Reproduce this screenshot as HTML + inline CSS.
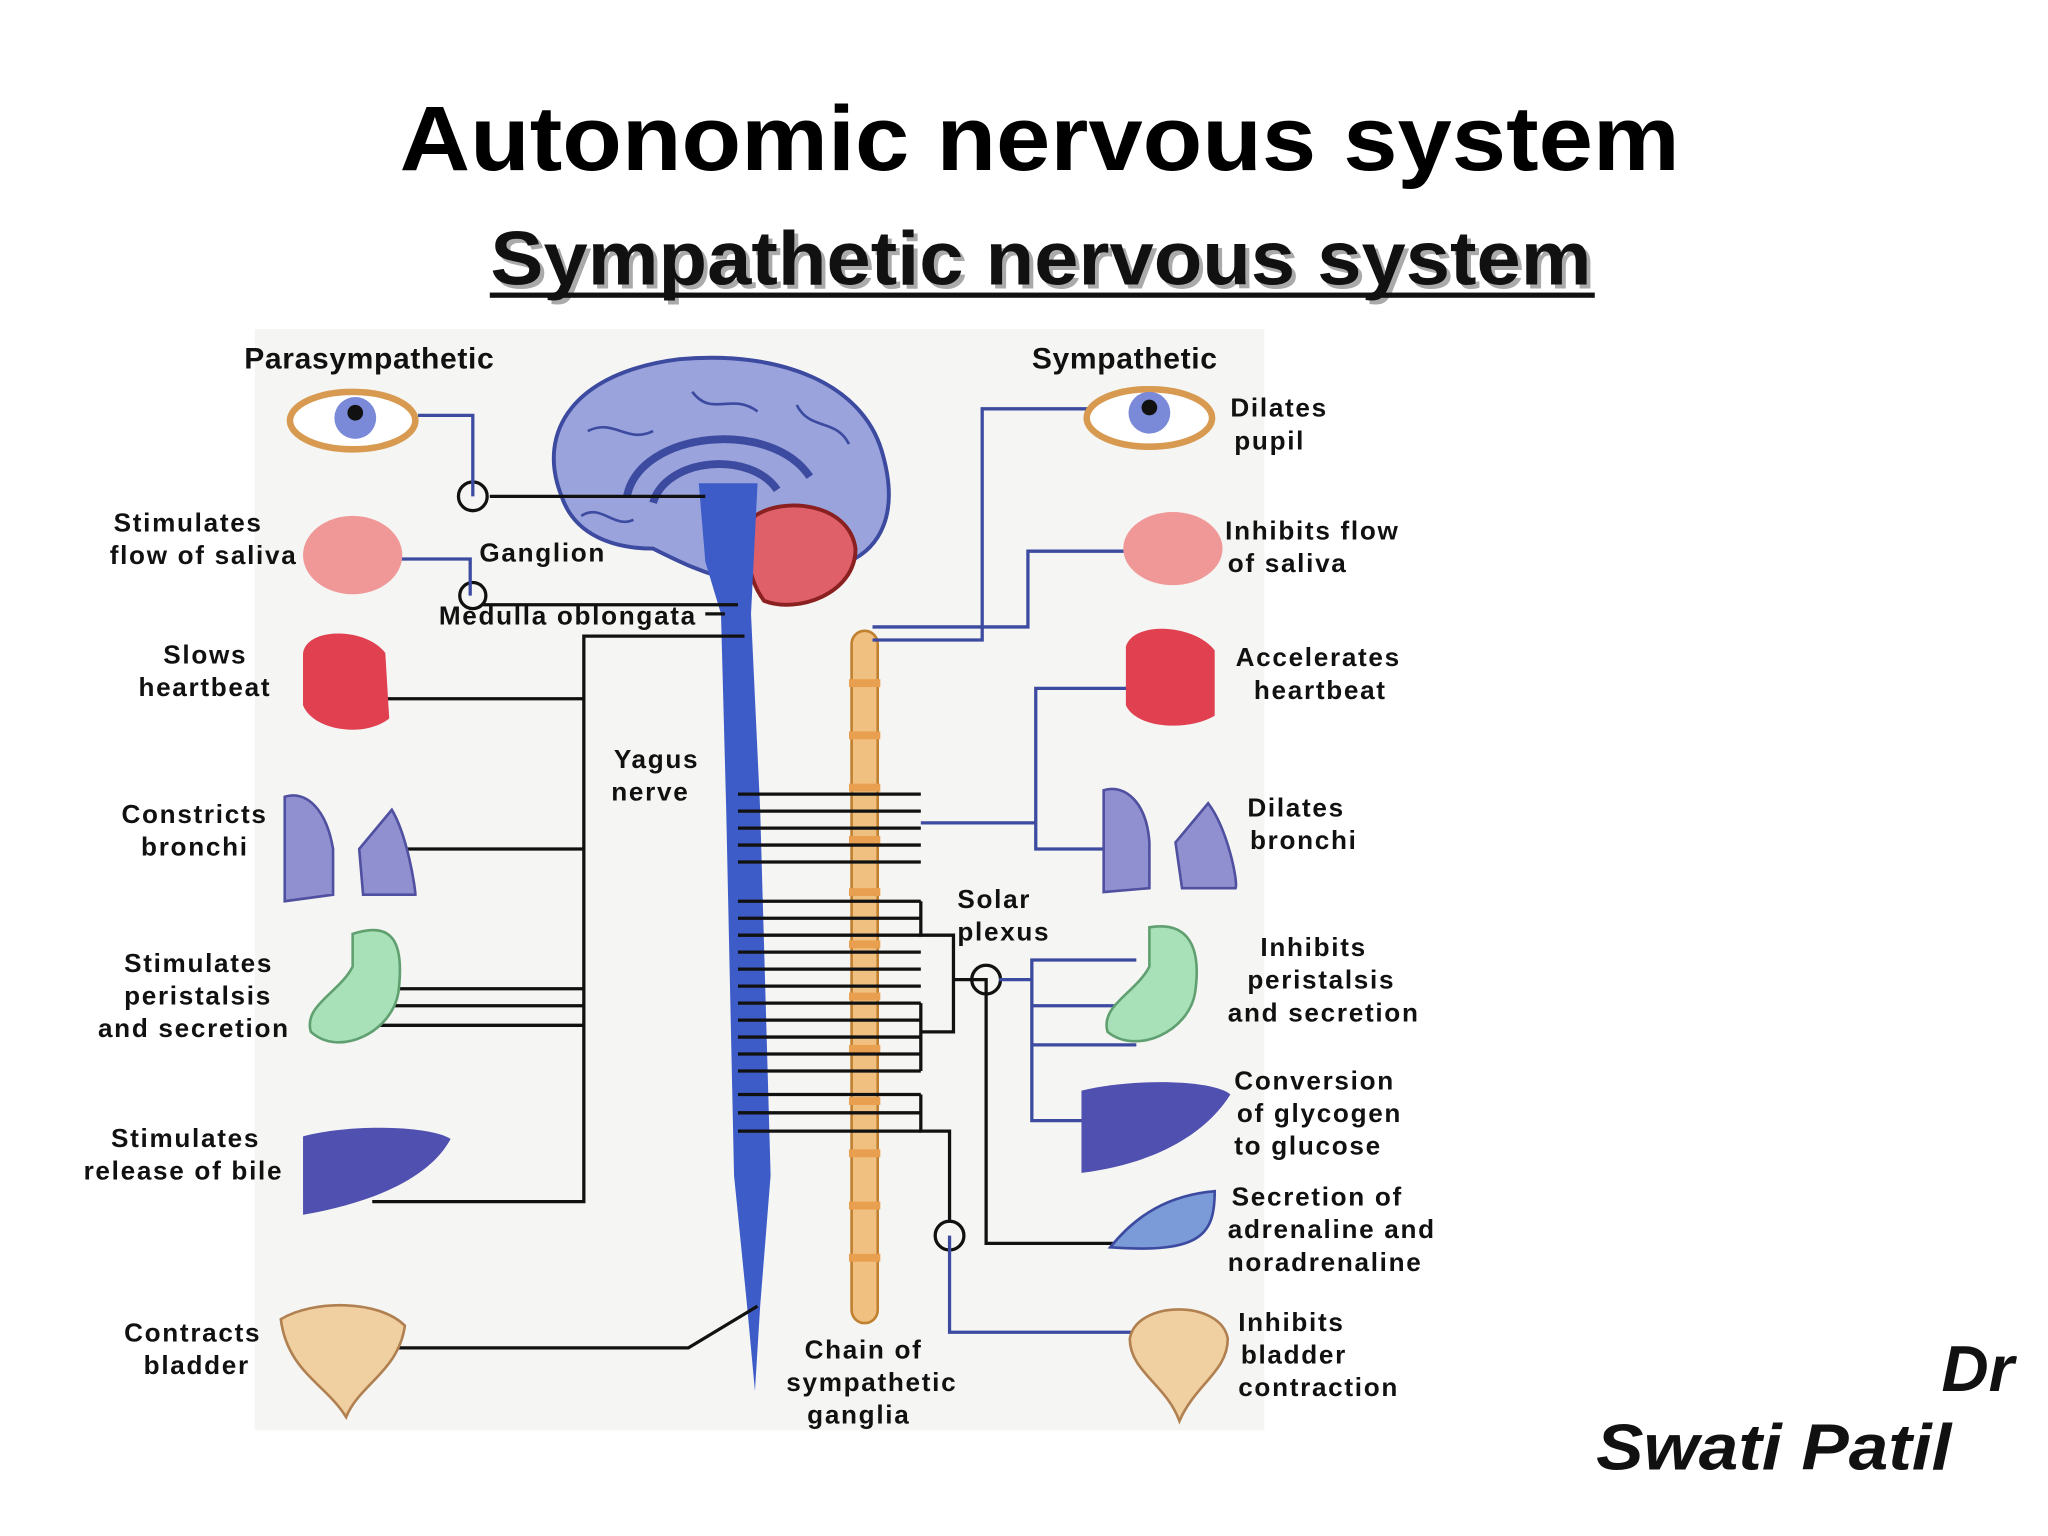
<!DOCTYPE html>
<html><head><meta charset="utf-8"><style>
html,body{margin:0;padding:0;background:#fff;}
svg{display:block}
.l{font-family:"Liberation Sans",sans-serif;font-weight:bold;font-size:20px;letter-spacing:1.3px;fill:#111;}
</style></head><body>
<svg width="2048" height="1536" viewBox="0 0 1568 1176" xmlns="http://www.w3.org/2000/svg">
<rect width="1568" height="1176" fill="#fff"/>
<text x="796" y="130" text-anchor="middle" font-family="Liberation Sans,sans-serif" font-weight="bold" font-size="70" textLength="980" lengthAdjust="spacingAndGlyphs">Autonomic nervous system</text>
<g font-family="Liberation Sans,sans-serif" font-weight="bold" font-size="58">
<text x="800" y="221" text-anchor="middle" fill="#aaa" textLength="843" lengthAdjust="spacingAndGlyphs">Sympathetic  nervous system</text>
<text x="797" y="218" text-anchor="middle" fill="#111" textLength="843" lengthAdjust="spacingAndGlyphs">Sympathetic  nervous system</text>
</g>
<rect x="375" y="224" width="846" height="4" fill="#111"/>
<rect x="195" y="252" width="773" height="843" fill="#f5f5f3"/>

<!-- brain -->
<path d="M430,380 C410,330 440,285 520,275 C600,268 660,295 675,345 C690,395 672,420 650,430 L585,430 L565,445 C540,440 520,430 500,420 C470,420 440,410 430,380Z" fill="#9aa3dc" stroke="#3c4aa0" stroke-width="3"/>
<path d="M480,380 C490,330 590,320 620,365 M500,385 C510,350 575,345 595,375" fill="none" stroke="#3c4aa0" stroke-width="6"/>
<g stroke="#3c4aa0" stroke-width="2" fill="none"><path d="M450,330 C470,320 480,340 500,330 M530,300 C545,320 560,300 580,315 M610,310 C620,330 640,320 650,340 M445,395 C460,385 470,405 485,398"/></g>
<path d="M578,395 C600,380 650,385 655,420 C655,455 610,470 585,460 C570,440 570,410 578,395Z" fill="#e0606a" stroke="#8a2020" stroke-width="3"/>
<!-- spinal cord -->
<path d="M535,370 L580,370 L575,470 L582,620 L590,900 L582,1000 L578,1065 L572,1000 L562,900 L556,620 L552,470 L540,430Z" fill="#3d5cc8"/>
<!-- chain -->
<rect x="652" y="483" width="20" height="530" rx="10" fill="#f0c080" stroke="#c08030" stroke-width="2"/>
<g fill="#e8a050"><rect x="650" y="520" width="24" height="6"/><rect x="650" y="560" width="24" height="6"/><rect x="650" y="600" width="24" height="6"/><rect x="650" y="640" width="24" height="6"/><rect x="650" y="680" width="24" height="6"/><rect x="650" y="720" width="24" height="6"/><rect x="650" y="760" width="24" height="6"/><rect x="650" y="800" width="24" height="6"/><rect x="650" y="840" width="24" height="6"/><rect x="650" y="880" width="24" height="6"/><rect x="650" y="920" width="24" height="6"/><rect x="650" y="960" width="24" height="6"/></g>
<g stroke="#111" stroke-width="2.5">
<line x1="565" y1="608" x2="705" y2="608"/><line x1="565" y1="621" x2="705" y2="621"/><line x1="565" y1="634" x2="705" y2="634"/><line x1="565" y1="647" x2="705" y2="647"/><line x1="565" y1="660" x2="705" y2="660"/>
<line x1="565" y1="690" x2="705" y2="690"/><line x1="565" y1="703" x2="705" y2="703"/><line x1="565" y1="716" x2="705" y2="716"/><line x1="565" y1="729" x2="705" y2="729"/><line x1="565" y1="742" x2="705" y2="742"/><line x1="565" y1="755" x2="705" y2="755"/><line x1="565" y1="768" x2="705" y2="768"/><line x1="565" y1="781" x2="705" y2="781"/><line x1="565" y1="794" x2="705" y2="794"/><line x1="565" y1="807" x2="705" y2="807"/><line x1="565" y1="820" x2="705" y2="820"/><line x1="565" y1="838" x2="705" y2="838"/><line x1="565" y1="852" x2="705" y2="852"/><line x1="565" y1="866" x2="705" y2="866"/>
</g>
<g stroke="#111" stroke-width="2.5" fill="none">
<polyline points="705,690 705,716 730,716 730,790 705,790"/>
<polyline points="705,768 705,820"/><polyline points="705,838 705,866 727,866 727,935"/>
<line x1="375" y1="380" x2="540" y2="380"/>
<line x1="370" y1="463" x2="565" y2="463"/>
<polyline points="570,487 447,487 447,920 285,920"/>
<line x1="285" y1="535" x2="447" y2="535"/><line x1="285" y1="650" x2="447" y2="650"/>
<line x1="290" y1="757" x2="447" y2="757"/><line x1="290" y1="770" x2="447" y2="770"/><line x1="290" y1="785" x2="447" y2="785"/>
<polyline points="285,1032 527,1032 580,1000"/>
<line x1="540" y1="470" x2="555" y2="470"/>
<polyline points="730,750 755,750 755,952 870,952"/>
<circle cx="362" cy="380" r="11"/><circle cx="362" cy="456" r="10"/>
<circle cx="755" cy="750" r="11"/><circle cx="727" cy="946" r="11"/>
</g>
<g stroke="#3c4aa0" stroke-width="2.5" fill="none">
<polyline points="320,318 362,318 362,380"/><polyline points="275,428 360,428 360,456"/>
<polyline points="668,490 752,490 752,313 870,313"/><polyline points="668,480 787,480 787,422 870,422"/>
<polyline points="870,527 793,527 793,650 870,650"/><line x1="705" y1="630" x2="793" y2="630"/>
<polyline points="870,735 790,735 790,858 870,858"/><line x1="790" y1="770" x2="870" y2="770"/><line x1="790" y1="800" x2="870" y2="800"/>
<polyline points="727,946 727,1020 870,1020"/>
<line x1="765" y1="750" x2="790" y2="750"/>
</g>
<!-- organs left -->
<ellipse cx="270" cy="322" rx="48" ry="22" fill="#fff" stroke="#d89a50" stroke-width="5"/><circle cx="272" cy="320" r="16" fill="#7a8ad8"/><circle cx="272" cy="316" r="6" fill="#111"/>
<ellipse cx="270" cy="425" rx="38" ry="30" fill="#f09898"/>
<path d="M232,500 C235,480 280,480 295,500 L298,550 C280,565 240,560 232,540Z" fill="#e04050"/>
<path d="M218,610 C235,605 250,620 255,650 L255,685 L218,690Z M275,650 L300,620 C312,640 318,680 318,685 L278,685Z" fill="#9090d0" stroke="#5050a0" stroke-width="2"/>
<path d="M270,715 C300,705 310,720 305,760 C300,790 260,810 238,790 C232,770 260,760 270,740Z" fill="#a8e0b8" stroke="#60a070" stroke-width="2"/>
<path d="M232,870 C270,860 330,862 345,872 C330,900 290,920 232,930Z" fill="#5050b0"/>
<path d="M215,1010 C240,995 290,995 310,1015 C305,1050 275,1060 265,1085 C250,1060 220,1050 215,1010Z" fill="#f0d0a0" stroke="#b08050" stroke-width="2"/>
<!-- organs right -->
<ellipse cx="880" cy="320" rx="48" ry="22" fill="#fff" stroke="#d89a50" stroke-width="5"/><circle cx="880" cy="316" r="16" fill="#7a8ad8"/><circle cx="880" cy="312" r="6" fill="#111"/>
<ellipse cx="898" cy="420" rx="38" ry="28" fill="#f09898"/>
<path d="M862,495 C868,475 915,478 930,498 L930,548 C910,560 870,558 862,540Z" fill="#e04050"/>
<path d="M845,605 C862,600 878,615 880,645 L880,680 L845,683Z M900,645 L925,615 C940,635 948,675 946,680 L905,680Z" fill="#9090d0" stroke="#5050a0" stroke-width="2"/>
<path d="M880,710 C910,705 920,725 915,760 C910,790 870,808 848,790 C842,770 870,760 880,740Z" fill="#a8e0b8" stroke="#60a070" stroke-width="2"/>
<path d="M828,835 C870,825 930,827 942,838 C925,865 890,890 828,898Z" fill="#5050b0"/>
<path d="M850,955 C870,930 895,915 930,912 C930,945 920,960 850,955Z" fill="#7a9ad8" stroke="#3c4aa0" stroke-width="2"/>
<path d="M865,1025 C870,995 935,995 940,1025 C940,1050 915,1060 903,1088 C893,1060 865,1050 865,1025Z" fill="#f0d0a0" stroke="#b08050" stroke-width="2"/>
<!-- labels -->
<g class="l">
<text x="187" y="282" font-size="23" letter-spacing="0.5">Parasympathetic</text>
<text x="790" y="282" font-size="23" letter-spacing="0.5">Sympathetic</text>
<text x="87" y="407">Stimulates</text><text x="84" y="432">flow of saliva</text>
<text x="367" y="430">Ganglion</text>
<text x="336" y="478">Medulla oblongata</text>
<text x="125" y="508">Slows</text><text x="106" y="533">heartbeat</text>
<text x="470" y="588">Yagus</text><text x="468" y="613">nerve</text>
<text x="93" y="630">Constricts</text><text x="108" y="655">bronchi</text>
<text x="95" y="744">Stimulates</text><text x="95" y="769">peristalsis</text><text x="75" y="794">and secretion</text>
<text x="85" y="878">Stimulates</text><text x="64" y="903">release of bile</text>
<text x="95" y="1027">Contracts</text><text x="110" y="1052">bladder</text>
<text x="942" y="319">Dilates</text><text x="945" y="344">pupil</text>
<text x="938" y="413">Inhibits flow</text><text x="940" y="438">of saliva</text>
<text x="946" y="510">Accelerates</text><text x="960" y="535">heartbeat</text>
<text x="955" y="625">Dilates</text><text x="957" y="650">bronchi</text>
<text x="733" y="695">Solar</text><text x="733" y="720">plexus</text>
<text x="965" y="732">Inhibits</text><text x="955" y="757">peristalsis</text><text x="940" y="782">and secretion</text>
<text x="945" y="834">Conversion</text><text x="947" y="859">of glycogen</text><text x="945" y="884">to glucose</text>
<text x="943" y="923">Secretion of</text><text x="940" y="948">adrenaline and</text><text x="940" y="973">noradrenaline</text>
<text x="948" y="1019">Inhibits</text><text x="950" y="1044">bladder</text><text x="948" y="1069">contraction</text>
<text x="616" y="1040">Chain of</text><text x="602" y="1065">sympathetic</text><text x="618" y="1090">ganglia</text>
</g>
<g font-family="Liberation Sans,sans-serif" font-weight="bold" font-style="italic" font-size="50" fill="#111">
<text x="1542" y="1065" text-anchor="end">Dr</text>
<text x="1222" y="1125" textLength="272" lengthAdjust="spacingAndGlyphs">Swati Patil</text>
</g>
</svg>
</body></html>
